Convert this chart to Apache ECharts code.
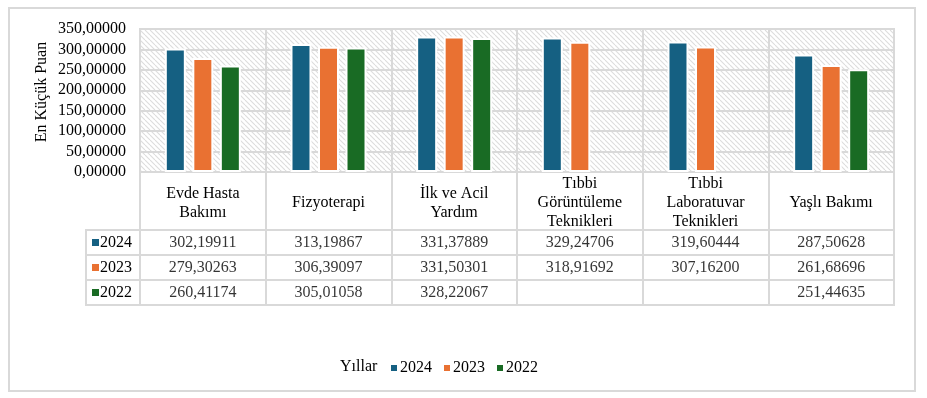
<!DOCTYPE html>
<html>
<head>
<meta charset="utf-8">
<script src="https://cdn.jsdelivr.net/npm/echarts@6/dist/echarts.min.js"></script>
<style>
  html, body { margin: 0; padding: 0; background: #fff; }
  #chart { width: 927px; height: 398px; }
</style>
</head>
<body>
<div id="chart"></div>
<script>
// ---- data ----
const categories = ['Evde Hasta\nBakımı', 'Fizyoterapi', 'İlk ve Acil\nYardım', 'Tıbbi\nGörüntüleme\nTeknikleri', 'Tıbbi\nLaboratuvar\nTeknikleri', 'Yaşlı Bakımı'];
const years = ['2024', '2023', '2022'];
const values2024 = [302.19911, 313.19867, 331.37889, 329.24706, 319.60444, 287.50628];
const values2023 = [279.30263, 306.39097, 331.50301, 318.91692, 307.16200, 261.68696];
const values2022 = [260.41174, 305.01058, 328.22067, null, null, 251.44635];
const yMin = 0, yMax = 350, yStep = 50;
const yAxisTitle = 'En Küçük Puan';
const legendTitle = 'Yıllar';

// ---- styles ----
const colors = ['#156082', '#E97132', '#196B24'];
const FONT = 'Liberation Serif';
const LINE = '#d9d9d9';
const seriesValues = [values2024, values2023, values2022];

function fmt(v) { return v.toFixed(5).replace('.', ','); }

function hatch() {
  const s = 5;
  const c = document.createElement('canvas');
  c.width = s; c.height = s;
  const g = c.getContext('2d');
  g.fillStyle = '#ffffff';
  g.fillRect(0, 0, s, s);
  g.strokeStyle = '#dcdcdc';
  g.lineWidth = 1.1;
  [-s, 0, s].forEach(k => {
    g.beginPath(); g.moveTo(k, 0); g.lineTo(k + s, s); g.stroke();
  });
  return c;
}

const chart = echarts.init(document.getElementById('chart'), null, { renderer: 'canvas' });

const gridCommon = { left: 140, right: 33, show: true, borderColor: LINE, borderWidth: 2, containLabel: false };

const barSeries = years.map((y, i) => ({
  name: y,
  type: 'bar',
  xAxisIndex: 0, yAxisIndex: 0,
  data: seriesValues[i],
  barWidth: 21,
  barGap: '31%',
  itemStyle: { color: colors[i], borderColor: '#ffffff', borderWidth: 2 },
  emphasis: { disabled: true }
}));

const tableData = [];
seriesValues.forEach((arr, r) => arr.forEach((v, c) => { if (v != null) tableData.push([c, r, v]); }));

const option = {
  animation: false,
  backgroundColor: '#ffffff',
  textStyle: { fontFamily: FONT },
  graphic: [
    { type: 'rect', shape: { x: 9, y: 8, width: 906, height: 383 }, style: { fill: null, stroke: LINE, lineWidth: 2 }, silent: true },
    { type: 'text', x: 42, y: 92, rotation: Math.PI / 2,
      style: { text: yAxisTitle, fontFamily: FONT, fontSize: 16, fill: '#000', align: 'center', verticalAlign: 'middle' } },
    { type: 'text', x: 340, y: 367,
      style: { text: legendTitle, fontFamily: FONT, fontSize: 16, fill: '#000', align: 'left', verticalAlign: 'middle' } }
  ],
  legend: {
    data: years,
    left: 389, top: 360, padding: 0,
    icon: 'rect', itemWidth: 8, itemHeight: 8, itemGap: 10,
    textStyle: { fontFamily: FONT, fontSize: 16, color: '#000', padding: [0, 0, 0, -3] },
    selectedMode: false
  },
  grid: [
    Object.assign({}, gridCommon, { top: 29, height: 143, backgroundColor: { image: hatch(), repeat: 'repeat' } }),
    Object.assign({}, gridCommon, { top: 172, height: 58, backgroundColor: 'transparent' }),
    Object.assign({}, gridCommon, { top: 230, height: 75, backgroundColor: 'transparent' }),
    { left: 86, width: 54, top: 230, height: 75, show: true, borderColor: LINE, borderWidth: 2, backgroundColor: 'transparent' }
  ],
  xAxis: [
    { gridIndex: 0, type: 'category', data: categories,
      axisLine: { show: false }, axisTick: { show: false },
      splitLine: { show: true, interval: 0, lineStyle: { color: LINE, width: 2 } },
      axisLabel: { interval: 0, margin: 31, verticalAlign: 'middle', lineHeight: 19, fontSize: 16, fontFamily: FONT, color: '#000' } },
    { gridIndex: 1, type: 'category', data: categories,
      axisLine: { show: false }, axisTick: { show: false }, axisLabel: { show: false },
      splitLine: { show: true, interval: 0, lineStyle: { color: LINE, width: 2 } } },
    { gridIndex: 2, type: 'category', data: categories,
      axisLine: { show: false }, axisTick: { show: false }, axisLabel: { show: false },
      splitLine: { show: true, interval: 0, lineStyle: { color: LINE, width: 2 } } },
    { gridIndex: 3, type: 'value', show: false }
  ],
  yAxis: [
    { gridIndex: 0, type: 'value', min: yMin, max: yMax, interval: yStep,
      axisLine: { show: false }, axisTick: { show: false },
      splitLine: { show: true, lineStyle: { color: LINE, width: 2 } },
      axisLabel: { margin: 14, fontSize: 16, fontFamily: FONT, color: '#000', formatter: fmt } },
    { gridIndex: 1, type: 'value', show: false },
    { gridIndex: 2, type: 'category', data: years, inverse: true,
      axisLine: { show: false }, axisTick: { show: false },
      splitLine: { show: true, interval: 0, lineStyle: { color: LINE, width: 2 } },
      axisLabel: {
        interval: 0, margin: 48, align: 'left',
        formatter: (v, i) => '{s' + i + '|}{t|' + v + '}',
        rich: {
          s0: { width: 7, height: 7, backgroundColor: colors[0] },
          s1: { width: 7, height: 7, backgroundColor: colors[1] },
          s2: { width: 7, height: 7, backgroundColor: colors[2] },
          t: { fontSize: 16, fontFamily: FONT, color: '#000', padding: [0, 0, 0, 1] }
        }
      } },
    { gridIndex: 3, type: 'category', data: years, inverse: true,
      axisLine: { show: false }, axisTick: { show: false }, axisLabel: { show: false },
      splitLine: { show: true, interval: 0, lineStyle: { color: LINE, width: 2 } } }
  ],
  series: barSeries.concat([
    { name: 'table', type: 'scatter', xAxisIndex: 2, yAxisIndex: 2,
      data: tableData, symbolSize: 0, silent: true,
      label: { show: true, position: 'inside', fontSize: 16, fontFamily: FONT, color: '#000',
               formatter: p => fmt(p.value[2]) } }
  ])
};

chart.setOption(option);
</script>
</body>
</html>
